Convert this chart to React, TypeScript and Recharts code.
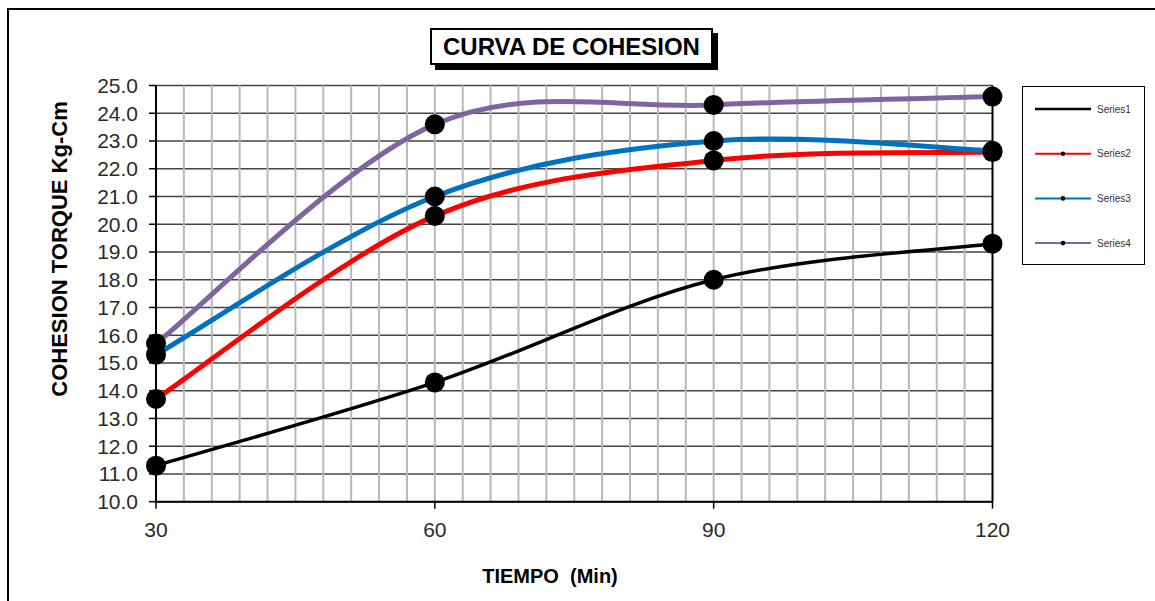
import React from 'react'
import {
  LineChart, Line, XAxis, YAxis, CartesianGrid, ReferenceLine, Legend,
} from 'recharts'

const minutes = [30, 60, 90, 120]
const series1 = [11.3, 14.3, 18.0, 19.3]
const series2 = [13.7, 20.3, 22.3, 22.6]
const series3 = [15.3, 21.0, 23.0, 22.65]
const series4 = [15.7, 23.6, 24.3, 24.6]

const xTicks = [30, 60, 90, 120]
const yTicks = [10, 11, 12, 13, 14, 15, 16, 17, 18, 19, 20, 21, 22, 23, 24, 25]
// minor vertical grid every 3 minutes
const xGrid = [
  33, 36, 39, 42, 45, 48, 51, 54, 57, 60, 63, 66, 69, 72, 75, 78, 81, 84, 87, 90,
  93, 96, 99, 102, 105, 108, 111, 114, 117,
]

const seriesInfo = [
  { key: 's1', name: 'Series1', color: '#000000', width: 3.5, legendDot: false },
  { key: 's2', name: 'Series2', color: '#ff0000', width: 5, legendDot: true },
  { key: 's3', name: 'Series3', color: '#0070c0', width: 5, legendDot: true },
  { key: 's4', name: 'Series4', color: '#8064a2', width: 5, legendDot: true },
]

const data = minutes.map((m, i) => ({
  m, s1: series1[i], s2: series2[i], s3: series3[i], s4: series4[i],
}))

const FONT = '"Liberation Sans", Arial, sans-serif'

// office-style smoothed line: cubic bezier with 1/6 tangents, ends duplicated
function smoothCurve(context: any) {
  let pts: number[][] = []
  return {
    areaStart() {},
    areaEnd() {},
    lineStart() { pts = [] },
    point(x: number, y: number) { pts.push([+x, +y]) },
    lineEnd() {
      const n = pts.length
      if (!n) return
      context.moveTo(pts[0][0], pts[0][1])
      for (let i = 0; i < n - 1; i++) {
        const p0 = pts[Math.max(0, i - 1)]
        const p1 = pts[i]
        const p2 = pts[i + 1]
        const p3 = pts[Math.min(n - 1, i + 2)]
        context.bezierCurveTo(
          p1[0] + (p2[0] - p0[0]) / 6, p1[1] + (p2[1] - p0[1]) / 6,
          p2[0] - (p3[0] - p1[0]) / 6, p2[1] - (p3[1] - p1[1]) / 6,
          p2[0], p2[1],
        )
      }
    },
  }
}

function LegendBox() {
  return (
    <div style={{
      width: 123, height: 179, boxSizing: 'border-box', border: '1.5px solid #000',
      background: '#fff', position: 'relative',
    }}>
      <svg width={120} height={176} style={{ position: 'absolute', left: 0, top: 0 }}>
        {seriesInfo.map((s, i) => {
          const y = 22 + i * 44.7
          return (
            <g key={s.key}>
              <line x1={12} x2={68} y1={y} y2={y} stroke={s.color} strokeWidth={s.key === 's1' ? 2.5 : 2} />
              {s.legendDot && <circle cx={40} cy={y} r={2.3} fill="#000" />}
              <text x={74} y={y + 3.5} fontSize={10} fill="#333" fontFamily={FONT}>{s.name}</text>
            </g>
          )
        })}
      </svg>
    </div>
  )
}

export default function App() {
  return (
    <div style={{
      position: 'absolute', left: 0, top: 0, width: 1155, height: 601,
      overflow: 'hidden', background: '#fff', fontFamily: FONT,
    }}>
      <div style={{
        position: 'absolute', left: 7, top: 8, width: 1200, height: 700,
        borderLeft: '2px solid #000', borderTop: '2px solid #000',
      }} />

      <div style={{
        position: 'absolute', left: 430, top: 28, width: 283, height: 37,
        boxSizing: 'border-box', border: '2px solid #000', background: '#fff',
        boxShadow: '5px 5px 0 #000', fontSize: 24, fontWeight: 700,
        display: 'flex', alignItems: 'center', justifyContent: 'center', color: '#000',
      }}>
        CURVA DE COHESION
      </div>

      <div style={{ position: 'absolute', left: 0, top: 0 }}>
        <LineChart
          width={1155} height={601} data={data}
          margin={{ top: 85.5, right: 162.5, bottom: 59.3, left: 96 }}
        >
          {xGrid.map(v => (
            <ReferenceLine key={v} x={v} stroke="#b8b8b8" strokeWidth={2} />
          ))}
          <CartesianGrid vertical={false} stroke="#444" strokeWidth={1.5} />
          <ReferenceLine x={120} stroke="#000" strokeWidth={2} />
          <XAxis
            dataKey="m" type="number" domain={[30, 120]} ticks={xTicks}
            height={40} tickSize={7} tickMargin={13}
            axisLine={{ stroke: '#000', strokeWidth: 2 }}
            tickLine={{ stroke: '#000', strokeWidth: 1.5 }}
            tick={{ fontSize: 21, fill: '#2a2a2a', fontFamily: FONT }}
          />
          <YAxis
            type="number" domain={[10, 25]} ticks={yTicks} interval={0}
            width={60} tickSize={7} tickMargin={11}
            tickFormatter={(v: number) => v.toFixed(1)}
            axisLine={{ stroke: '#000', strokeWidth: 2 }}
            tickLine={{ stroke: '#000', strokeWidth: 1.5 }}
            tick={{ fontSize: 21, fill: '#2a2a2a', fontFamily: FONT }}
          />
          {seriesInfo.map(s => (
            <Line
              key={s.key} dataKey={s.key} name={s.name} type={smoothCurve as any}
              stroke={s.color} strokeWidth={s.width}
              dot={{ r: 10, fill: '#000', stroke: '#000', strokeWidth: 0 }}
              activeDot={false} isAnimationActive={false}
            />
          ))}
          <Legend
            layout="vertical" align="center" verticalAlign="middle"
            content={() => <LegendBox />}
            wrapperStyle={{ position: 'absolute', left: 1022, top: 86, width: 123, height: 179 }}
          />
        </LineChart>
      </div>

      <div style={{
        position: 'absolute', left: 60, top: 249, transform: 'translate(-50%, -50%) rotate(-90deg)',
        whiteSpace: 'nowrap', fontSize: 22, fontWeight: 700, color: '#000',
      }}>
        COHESION TORQUE Kg-Cm
      </div>

      <div style={{
        position: 'absolute', left: 550, top: 576, transform: 'translate(-50%, -50%)',
        whiteSpace: 'pre', fontSize: 20, fontWeight: 700, color: '#000',
      }}>
        {'TIEMPO  (Min)'}
      </div>
    </div>
  )
}
